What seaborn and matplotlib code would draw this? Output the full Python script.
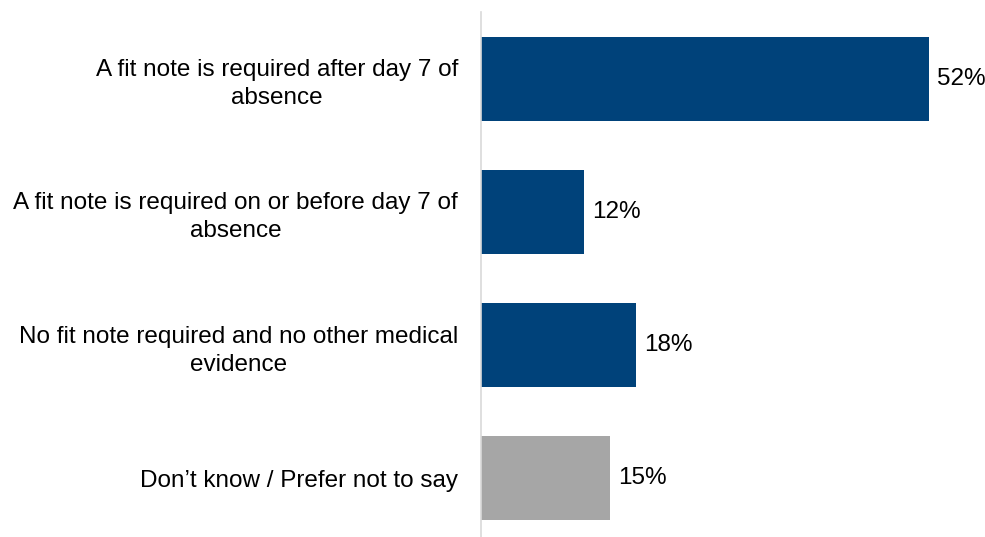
import matplotlib
matplotlib.use("Agg")
import matplotlib.pyplot as plt
import seaborn as sns
import pandas as pd

categories = [
    "A fit note is required after day 7 of\nabsence",
    "A fit note is required on or before day 7 of\nabsence",
    "No fit note required and no other medical\nevidence",
    "Don\u2019t know / Prefer not to say",
]
values = [52, 12, 18, 15]
colors = ["#00427A", "#00427A", "#00427A", "#A6A6A6"]

sns.set_theme(style="white")
plt.rcParams["font.family"] = ["Liberation Sans", "DejaVu Sans"]

df = pd.DataFrame({"category": categories, "value": values})

fig = plt.figure(figsize=(9.85, 5.37), dpi=100)
W, H = 985, 537
ax = fig.add_axes([481 / W, (H - 545) / H, (W - 481) / W, (545 - 12) / H])

sns.barplot(data=df, x="value", y="category", hue="category", palette=colors,
            legend=False, width=0.63, ax=ax, saturation=1, linewidth=0)

ax.set_xlim(0, 58.5)
ax.set_ylim(3.5, -0.5)
ax.set_xlabel("")
ax.set_ylabel("")
ax.set_xticks([])
for s in ["top", "right", "bottom"]:
    ax.spines[s].set_visible(False)
ax.spines["left"].set_color("#D9D9D9")
ax.spines["left"].set_linewidth(1.2)

ax.tick_params(axis="y", length=0, pad=16.5)
for lbl in ax.get_yticklabels():
    lbl.set_fontsize(17.5)
    lbl.set_color("#000000")
    lbl.set_multialignment("center")
    lbl.set_linespacing(1.35)

for i, v in enumerate(values):
    ax.text(v + 0.9, i, f"{v}%", va="center", ha="left", fontsize=17.5, color="#000000")

fig.savefig("out.png", dpi=100)
